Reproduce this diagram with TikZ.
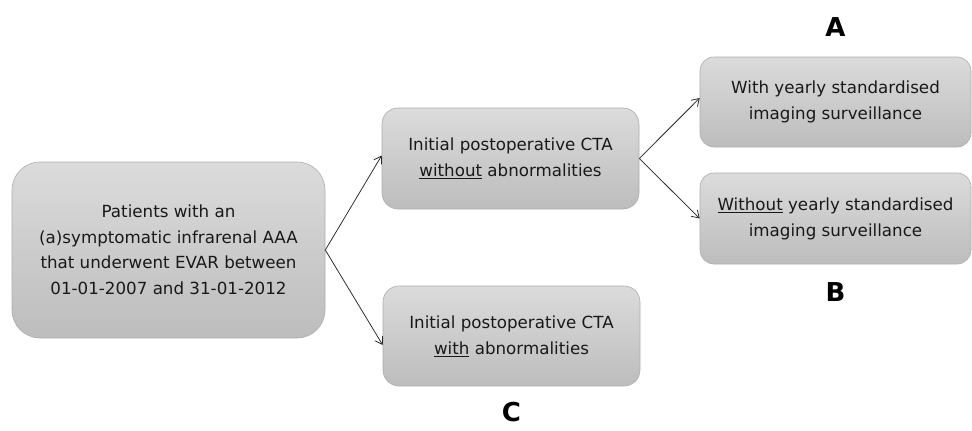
\documentclass[tikz,border=0pt]{standalone}
\usepackage{fontspec}
\setmainfont{DejaVu Sans}
\usepackage{xcolor}
\usetikzlibrary{arrows.meta,calc,positioning}

\newcommand{\boxfont}{\fontsize{16.7}{26}\selectfont}
\newcommand{\mainfont}{\fontsize{16.7}{25.5}\selectfont}
\newcommand{\letterfont}{\fontsize{26}{30}\selectfont\bfseries}

\tikzset{
  flowbox/.style={draw=black!32, line width=0.6pt, top color=black!14, bottom color=black!26,
    rounded corners=#1, align=center, text=black!90, font=\boxfont, inner sep=0pt},
  flowarrow/.style={draw=black!85, line width=0.75pt, -{Straight Barb[length=7pt,width=9pt]}},
  letter/.style={font=\letterfont, text=black}
}

\begin{document}
\begin{tikzpicture}[x=1pt, y=-1pt, >=Stealth]
		\useasboundingbox (0,0) rectangle (972,431);
		% Boxes
		\node[flowbox=28pt, minimum width=313pt, minimum height=176pt, font=\mainfont] (patients) at (168.5,250)
			{Patients with an\\(a)symptomatic infrarenal AAA\\that underwent EVAR between\\01-01-2007 and 31-01-2012};
		\node[flowbox=16pt, minimum width=257pt, minimum height=101pt] (without) at (510.5,158.5)
			{Initial postoperative CTA\\\underline{without} abnormalities};
		\node[flowbox=16pt, minimum width=257pt, minimum height=100pt] (with) at (511.5,336)
			{Initial postoperative CTA\\\underline{with} abnormalities};
		\node[flowbox=14pt, minimum width=271pt, minimum height=90pt] (yearly) at (835.5,102)
			{With yearly standardised\\imaging surveillance};
		\node[flowbox=14pt, minimum width=271pt, minimum height=91pt] (noyearly) at (835.5,218.5)
			{\underline{Without} yearly standardised\\imaging surveillance};
		% Group letters
		\node[letter, above=17pt of yearly] (lblA) {A};
		\node[letter, below=15pt of noyearly] (lblB) {B};
		\node[letter, below=12pt of with] (lblC) {C};
		% Connectors
		\draw[flowarrow] (patients.east) -- ([yshift=3pt]without.west);
		\draw[flowarrow] (patients.east) -- ([yshift=-9pt]with.west);
		\draw[flowarrow] (without.east) -- ([yshift=4pt]yearly.west);
		\draw[flowarrow] (without.east) -- (noyearly.west);
	\end{tikzpicture}
\end{document}
